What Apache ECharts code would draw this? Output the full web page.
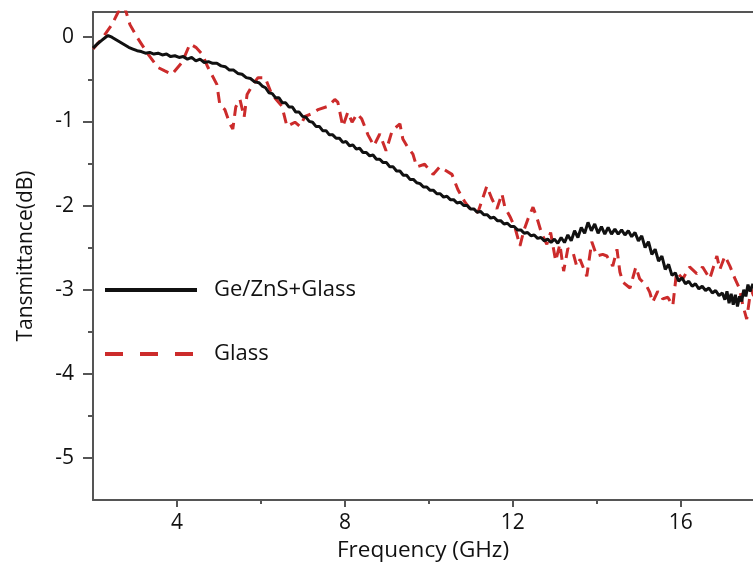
<!DOCTYPE html>
<html>
<head>
<meta charset="utf-8">
<script src="https://cdn.jsdelivr.net/npm/echarts@6/dist/echarts.min.js"></script>
<style>
  html, body { margin: 0; padding: 0; background: #fff; }
  #chart { width: 753px; height: 562px; }
</style>
</head>
<body>
<div id="chart"></div>
<script>
// Ge/ZnS + Glass (black solid)
var geFreq = [2.00, 2.10, 2.20, 2.30, 2.36, 2.45, 2.55, 2.65, 2.75, 2.85, 2.95, 3.05, 3.15,
    3.25, 3.35, 3.45, 3.55, 3.65, 3.75, 3.85, 3.95, 4.05, 4.15, 4.25, 4.35, 4.45, 4.55, 4.65, 4.75, 4.85, 4.95,
    5.05, 5.15, 5.25, 5.35, 5.45, 5.55, 5.65, 5.75, 5.85, 5.95,
    6.03, 6.11, 6.19, 6.27, 6.35, 6.43, 6.51, 6.59, 6.67, 6.75, 6.83, 6.91, 6.99, 7.07, 7.15, 7.23, 7.31, 7.39,
    7.47, 7.55, 7.63, 7.71, 7.79, 7.87, 7.95, 8.03, 8.11, 8.19, 8.27, 8.35, 8.43, 8.51, 8.59, 8.67, 8.75, 8.83,
    8.91, 8.99, 9.07, 9.15, 9.23, 9.31, 9.39, 9.47, 9.55, 9.63, 9.71, 9.79, 9.87, 9.95, 10.03, 10.11, 10.19, 10.27,
    10.35, 10.43, 10.51, 10.59, 10.67, 10.75, 10.83, 10.91, 10.99, 11.07, 11.15, 11.23, 11.31, 11.39, 11.47, 11.55,
    11.63, 11.71, 11.79, 11.87, 11.95, 12.03, 12.11, 12.19, 12.27, 12.35, 12.43, 12.51, 12.59, 12.67, 12.75, 12.83,
    12.91, 12.99, 13.07, 13.15, 13.23, 13.31, 13.39, 13.47, 13.55, 13.63, 13.71, 13.79, 13.87, 13.95, 14.03, 14.11,
    14.19, 14.27, 14.35, 14.43, 14.51, 14.59, 14.67, 14.75, 14.83, 14.91, 14.99, 15.07, 15.15, 15.23, 15.31, 15.39,
    15.47, 15.55, 15.63, 15.71, 15.79, 15.87, 15.95, 16.03, 16.11, 16.19, 16.27, 16.35, 16.43, 16.51, 16.59, 16.67,
    16.75, 16.83, 16.91, 16.99, 17.05, 17.10, 17.15, 17.20, 17.25, 17.30, 17.35, 17.40, 17.45, 17.50, 17.55, 17.60,
    17.65, 17.72];
var geDb = [-0.13, -0.08, -0.04, 0.00, 0.02, 0.00, -0.03, -0.06, -0.09, -0.12, -0.14, -0.16, -0.17,
    -0.19, -0.18, -0.20, -0.19, -0.21, -0.20, -0.23, -0.22, -0.24, -0.23, -0.26, -0.24, -0.28, -0.26, -0.30, -0.29, -0.31, -0.31,
    -0.34, -0.35, -0.39, -0.39, -0.43, -0.44, -0.48, -0.49, -0.53, -0.54,
    -0.58, -0.60, -0.66, -0.67, -0.72, -0.72, -0.78, -0.78, -0.83, -0.83, -0.89, -0.89, -0.94, -0.95, -1.00, -1.01, -1.06, -1.06,
    -1.11, -1.11, -1.16, -1.16, -1.20, -1.20, -1.25, -1.24, -1.29, -1.28, -1.33, -1.32, -1.37, -1.37, -1.41, -1.40, -1.45, -1.45,
    -1.49, -1.49, -1.54, -1.54, -1.59, -1.59, -1.64, -1.64, -1.69, -1.69, -1.73, -1.74, -1.78, -1.78, -1.82, -1.82, -1.86, -1.86,
    -1.90, -1.89, -1.93, -1.93, -1.97, -1.96, -2.00, -2.00, -2.04, -2.04, -2.08, -2.07, -2.11, -2.11, -2.15, -2.14,
    -2.18, -2.18, -2.22, -2.21, -2.25, -2.25, -2.29, -2.29, -2.33, -2.32, -2.36, -2.35, -2.39, -2.38, -2.42, -2.40,
    -2.44, -2.40, -2.45, -2.38, -2.44, -2.35, -2.42, -2.30, -2.38, -2.26, -2.33, -2.20, -2.30, -2.22, -2.33, -2.25,
    -2.34, -2.26, -2.34, -2.28, -2.34, -2.29, -2.35, -2.30, -2.37, -2.32, -2.42, -2.36, -2.50, -2.43, -2.58, -2.52,
    -2.66, -2.60, -2.76, -2.70, -2.83, -2.80, -2.90, -2.86, -2.93, -2.90, -2.96, -2.93, -2.99, -2.96, -3.01, -2.98,
    -3.04, -3.01, -3.07, -3.04, -3.12, -3.02, -3.16, -3.05, -3.18, -3.06, -3.20, -3.08, -3.14, -3.00, -3.08, -2.94,
    -3.02, -2.93];

// Glass (red dashed)
var glassFreq = [2.00, 2.21, 2.45, 2.60, 2.74, 2.88, 3.05, 3.31, 3.55, 3.71, 3.88, 4.12, 4.31, 4.45, 4.60, 4.74,
    4.95, 5.02, 5.14, 5.26, 5.33, 5.40, 5.50, 5.60, 5.67, 5.81, 5.93, 6.10, 6.26, 6.50, 6.62, 6.81, 6.93, 7.05,
    7.21, 7.36, 7.60, 7.76, 7.83, 7.95, 8.07, 8.17, 8.29, 8.40, 8.55, 8.69, 8.83, 8.98, 9.12, 9.24, 9.31, 9.38,
    9.50, 9.62, 9.71, 9.90, 10.10, 10.26, 10.55, 10.69, 10.86, 10.98, 11.17, 11.38, 11.50, 11.62, 11.74, 11.81,
    11.93, 12.05, 12.17, 12.26, 12.36, 12.48, 12.57, 12.69, 12.81, 12.90, 13.02, 13.12, 13.21, 13.31, 13.43, 13.52,
    13.60, 13.76, 13.88, 14.00, 14.14, 14.24, 14.38, 14.48, 14.55, 14.62, 14.79, 14.93, 15.02, 15.19, 15.26, 15.33,
    15.45, 15.57, 15.69, 15.81, 15.90, 16.05, 16.21, 16.38, 16.52, 16.69, 16.86, 16.93, 17.05, 17.17, 17.29, 17.40,
    17.48, 17.57, 17.67, 17.76];
var glassDb = [-0.14, -0.02, 0.15, 0.30, 0.38, 0.15, 0.00, -0.20, -0.36, -0.40, -0.44, -0.30, -0.08, -0.12, -0.20, -0.36,
    -0.56, -0.80, -0.86, -1.03, -1.09, -0.83, -0.74, -0.95, -0.68, -0.56, -0.48, -0.48, -0.68, -0.82, -1.06, -1.01, -1.06, -0.94,
    -0.91, -0.86, -0.82, -0.74, -0.77, -1.06, -0.89, -1.01, -0.91, -0.97, -1.16, -1.29, -1.15, -1.35, -1.12, -1.06, -1.03, -1.21,
    -1.31, -1.39, -1.54, -1.51, -1.63, -1.54, -1.63, -1.81, -1.96, -2.04, -2.08, -1.77, -1.92, -2.04, -1.86, -2.02,
    -2.13, -2.26, -2.48, -2.30, -2.16, -2.02, -2.14, -2.34, -2.46, -2.32, -2.66, -2.46, -2.78, -2.51, -2.55, -2.72,
    -2.64, -2.84, -2.43, -2.60, -2.58, -2.60, -2.72, -2.52, -2.79, -2.91, -2.98, -2.73, -2.87, -2.96, -3.03, -3.15,
    -3.02, -3.11, -3.09, -3.19, -2.79, -2.87, -2.73, -2.81, -2.73, -2.87, -2.60, -2.76, -2.60, -2.72, -2.87, -2.99,
    -3.19, -3.35, -2.99, -3.11];

var yMajor = [0, -1, -2, -3, -4, -5];
var yMinor = [-0.5, -1.5, -2.5, -3.5, -4.5];
var xMajor = [4, 8, 12, 16];
var xMinor = [6, 10, 14];

function pairs(xs, ys) {
    return xs.map(function (x, i) { return [x, ys[i]]; });
}

var FONT = 'Open Sans';
var AXIS_COLOR = '#555';
var RED = '#cc2b2b';

var myChart = echarts.init(document.getElementById('chart'));
var option = {
    animation: false,
    backgroundColor: '#fff',
    textStyle: { fontFamily: FONT },
    grid: { left: 93, right: 0, top: 12, bottom: 62, containLabel: false, outerBoundsMode: 'none' },
    legend: {
        orient: 'vertical',
        left: 103,
        top: 279,
        padding: 0,
        itemWidth: 92,
        itemHeight: 14,
        itemGap: 42,
        itemStyle: { opacity: 0 },
        textStyle: { fontFamily: FONT, fontSize: 22, color: '#111', padding: [0, 0, 0, 12] },
        data: [
            { name: 'Ge/ZnS+Glass', lineStyle: { width: 4 } },
            { name: 'Glass', lineStyle: { width: 4, type: [18, 17] } }
        ]
    },
    xAxis: [{
        type: 'value',
        min: 2,
        max: 17.72,
        name: 'Frequency (GHz)',
        nameLocation: 'middle',
        nameGap: 34,
        nameTextStyle: { fontFamily: FONT, fontSize: 22.5, color: '#111' },
        axisLine: { show: true, onZero: false, lineStyle: { color: AXIS_COLOR, width: 2 } },
        axisTick: { show: true, length: 7, customValues: xMajor, lineStyle: { color: AXIS_COLOR, width: 2 } },
        axisLabel: { customValues: xMajor, margin: 13, fontFamily: FONT, fontSize: 21, color: '#111' },
        splitLine: { show: false }
    }, {
        type: 'value',
        min: 2,
        max: 17.72,
        position: 'bottom',
        axisLine: { show: false, onZero: false },
        axisTick: { show: true, length: 4, customValues: xMinor, lineStyle: { color: AXIS_COLOR, width: 2 } },
        axisLabel: { show: false },
        splitLine: { show: false }
    }, {
        type: 'value',
        min: 2,
        max: 17.72,
        position: 'top',
        axisLine: { show: true, onZero: false, lineStyle: { color: AXIS_COLOR, width: 2 } },
        axisTick: { show: false },
        axisLabel: { show: false },
        splitLine: { show: false }
    }],
    yAxis: [{
        type: 'value',
        min: -5.5,
        max: 0.3,
        name: 'Tansmittance(dB)',
        nameLocation: 'middle',
        nameGap: 56,
        nameTextStyle: { fontFamily: FONT, fontSize: 21, color: '#111' },
        axisLine: { show: true, onZero: false, lineStyle: { color: AXIS_COLOR, width: 2 } },
        axisTick: { show: true, length: 5, customValues: yMinor, lineStyle: { color: AXIS_COLOR, width: 2 } },
        axisLabel: { customValues: yMajor, margin: 19, fontFamily: FONT, fontSize: 21, color: '#111' },
        splitLine: { show: false }
    }, {
        type: 'value',
        min: -5.5,
        max: 0.3,
        position: 'left',
        axisLine: { show: false, onZero: false },
        axisTick: { show: true, length: 10, customValues: yMajor, lineStyle: { color: AXIS_COLOR, width: 2 } },
        axisLabel: { show: false },
        splitLine: { show: false }
    }],
    series: [{
        name: 'Ge/ZnS+Glass',
        type: 'line',
        symbol: 'none',
        xAxisIndex: 0,
        yAxisIndex: 0,
        lineStyle: { color: '#111', width: 3 },
        itemStyle: { color: '#111' },
        data: pairs(geFreq, geDb),
        z: 3
    }, {
        name: 'Glass',
        type: 'line',
        symbol: 'none',
        xAxisIndex: 0,
        yAxisIndex: 0,
        lineStyle: { color: RED, width: 3, type: [11, 7] },
        itemStyle: { color: RED },
        data: pairs(glassFreq, glassDb),
        z: 2
    }]
};
myChart.setOption(option);
</script>
</body>
</html>
